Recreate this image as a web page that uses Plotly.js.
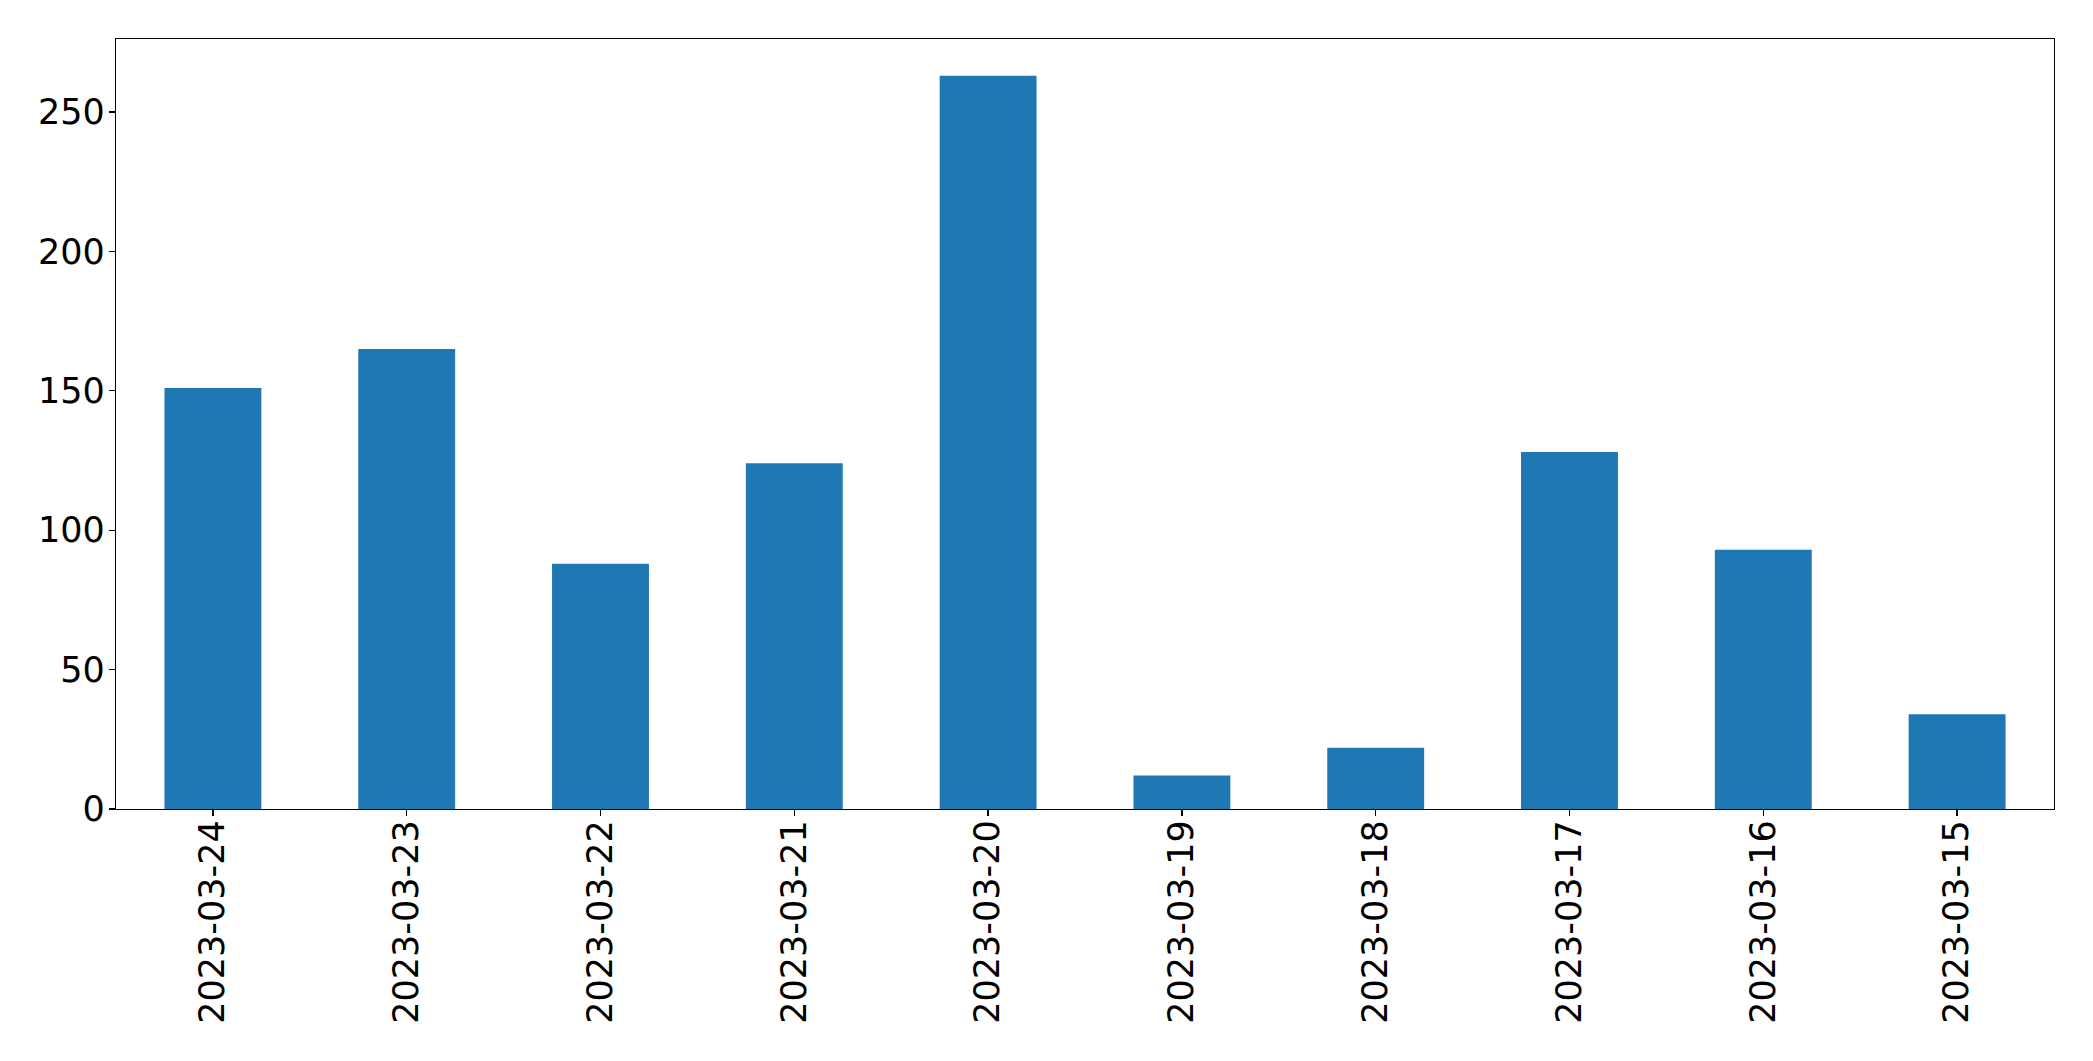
<!DOCTYPE html>
<html>
<head>
<meta charset="utf-8">
<script src="https://cdn.plot.ly/plotly-3.0.1.min.js"></script>
<style>
  html, body { margin: 0; padding: 0; background: #ffffff; }
  #chart { width: 2093px; height: 1061px; }
</style>
</head>
<body>
<div id="chart"></div>
<script>
const categories = ["2023-03-24", "2023-03-23", "2023-03-22", "2023-03-21", "2023-03-20",
                    "2023-03-19", "2023-03-18", "2023-03-17", "2023-03-16", "2023-03-15"];
const counts = [151, 165, 88, 124, 263, 12, 22, 128, 93, 34];
const yTickVals = [0, 50, 100, 150, 200, 250];

const maxVal = Math.max(...counts);

const trace = {
  type: "bar",
  x: categories,
  y: counts,
  width: 0.5,
  marker: { color: "#1f77b4", line: { width: 0 } },
  hoverinfo: "x+y"
};

const layout = {
  width: 2093,
  height: 1061,
  margin: { l: 116, r: 39, t: 39, b: 252, pad: 0 },
  paper_bgcolor: "#ffffff",
  plot_bgcolor: "#ffffff",
  showlegend: false,
  font: { family: "DejaVu Sans, sans-serif", size: 35, color: "#000000" },
  xaxis: {
    type: "category",
    range: [-0.5, categories.length - 0.5],
    tickangle: -90,
    ticks: "outside",
    ticklen: 6,
    tickwidth: 1.2,
    tickcolor: "#000000",
    ticklabelstandoff: -10,
    showline: true,
    linecolor: "#000000",
    linewidth: 1.3,
    mirror: true,
    showgrid: false,
    zeroline: false,
    tickfont: { family: "DejaVu Sans, sans-serif", size: 35, color: "#000000" }
  },
  yaxis: {
    range: [0, maxVal * 1.05],
    tickvals: yTickVals,
    ticktext: yTickVals.map(String),
    ticks: "outside",
    ticklen: 6,
    tickwidth: 1.2,
    tickcolor: "#000000",
    ticklabelstandoff: -3,
    showline: true,
    linecolor: "#000000",
    linewidth: 1.3,
    mirror: true,
    showgrid: false,
    zeroline: false,
    tickfont: { family: "DejaVu Sans, sans-serif", size: 35, color: "#000000" }
  }
};

Plotly.newPlot("chart", [trace], layout, { staticPlot: true, displayModeBar: false });
</script>
</body>
</html>
